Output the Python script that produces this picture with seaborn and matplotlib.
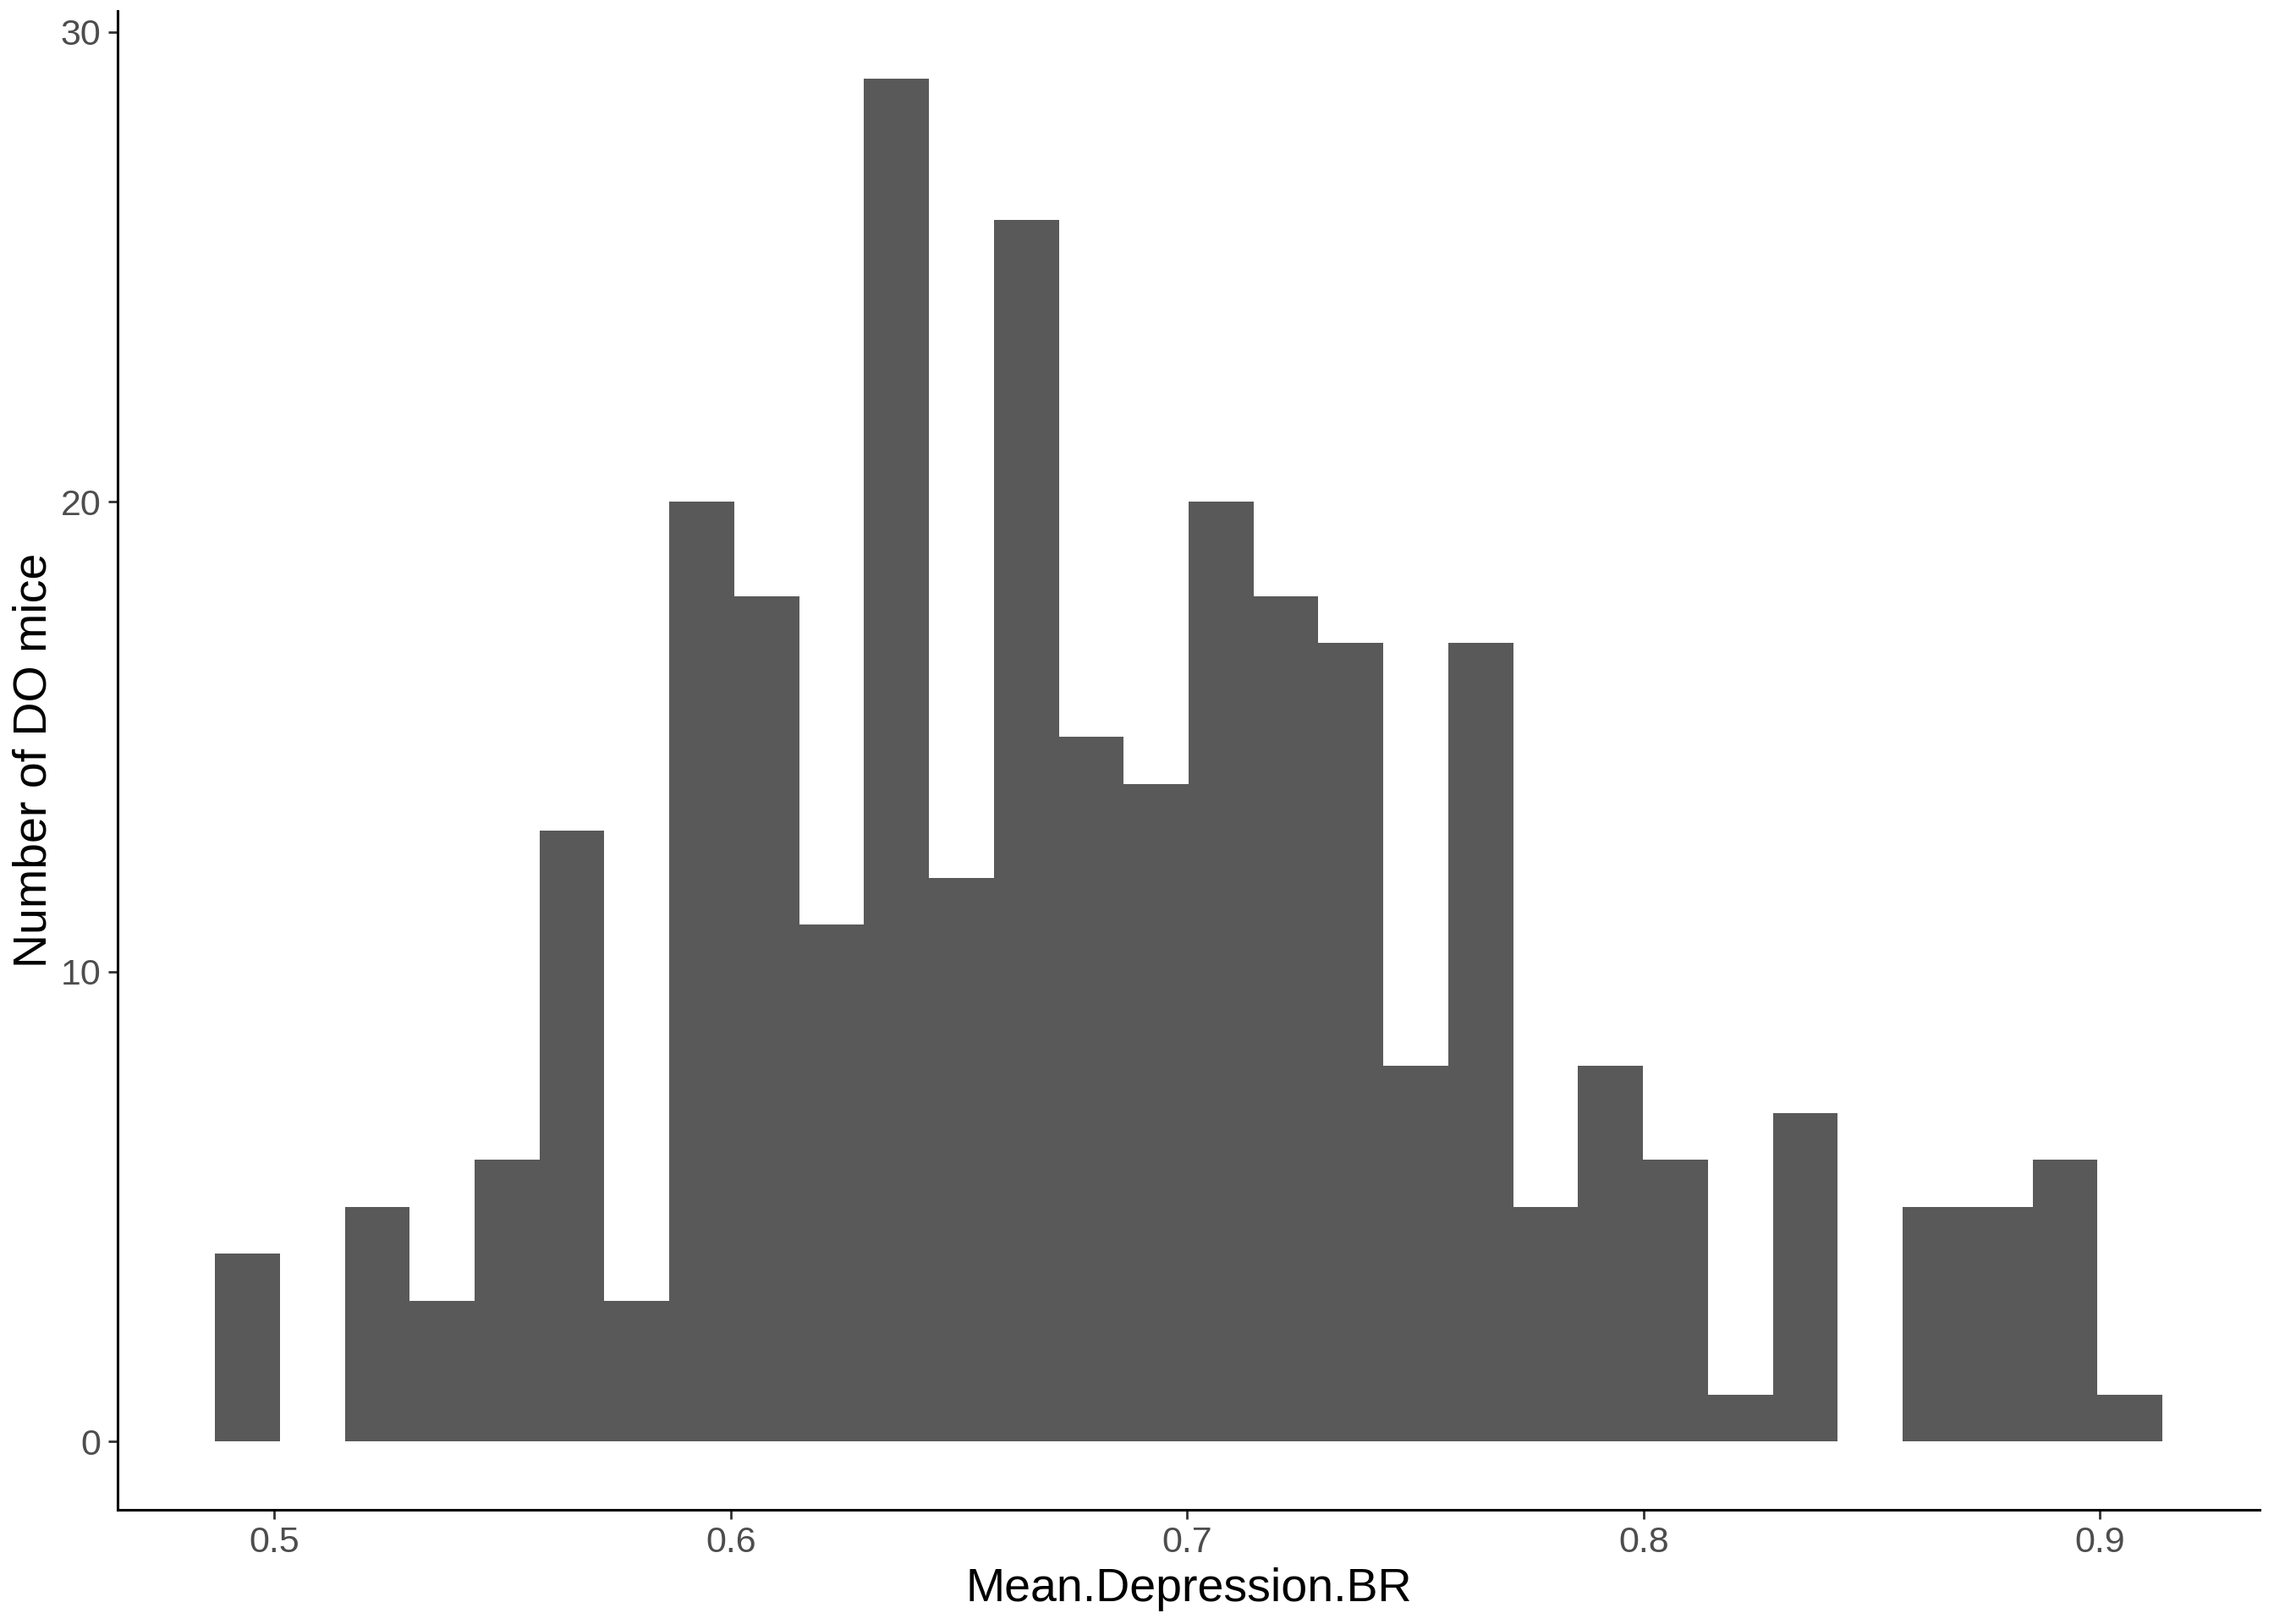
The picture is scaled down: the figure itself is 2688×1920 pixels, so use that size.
import matplotlib
matplotlib.use("Agg")
import matplotlib.pyplot as plt
import numpy as np
import pandas as pd
import seaborn as sns

# histogram: 30 bins between these edges
bin_lo = 0.48698
bin_hi = 0.91365
counts = [4, 0, 5, 3, 6, 13, 3, 20, 18, 11,
          29, 12, 26, 15, 14, 20, 18, 17, 8, 17,
          5, 8, 6, 1, 7, 0, 5, 5, 6, 1]
x_ticks = [0.5, 0.6, 0.7, 0.8, 0.9]
y_ticks = [0, 10, 20, 30]

n_bins = len(counts)
width = (bin_hi - bin_lo) / n_bins
centers = bin_lo + width * (np.arange(n_bins) + 0.5)
df = pd.DataFrame({"Mean.Depression.BR": centers, "n": counts})

sns.set_theme(style="ticks")
plt.rcParams['font.family'] = ['Liberation Sans', 'DejaVu Sans']

fig = plt.figure(figsize=(13.44, 9.6), dpi=200)
ax = fig.add_axes([0.0517, 0.0703, 0.942, 0.923])

sns.histplot(data=df, x="Mean.Depression.BR", weights="n", bins=n_bins,
             binrange=(bin_lo, bin_hi), color="#595959", alpha=1,
             edgecolor="none", linewidth=0, ax=ax)

pad = 0.05 * (bin_hi - bin_lo)
ax.set_xlim(bin_lo - pad, bin_hi + pad)
ax.set_ylim(-0.05 * max(counts), max(counts) * 1.05)
ax.set_xticks(x_ticks)
ax.set_xticklabels([str(t) for t in x_ticks])
ax.set_yticks(y_ticks)

sns.despine(ax=ax)
for s in ["left", "bottom"]:
    ax.spines[s].set_linewidth(1.1)
    ax.spines[s].set_color("black")
ax.tick_params(axis="both", length=4, width=1.0, color="#333333",
               labelsize=15.5, labelcolor="#4D4D4D", pad=3)

ax.set_xlabel("Mean.Depression.BR", fontsize=20, color="black", labelpad=3)
ax.set_ylabel("Number of DO mice", fontsize=20, color="black", labelpad=2)

fig.savefig("out.png", dpi=200, facecolor="white")
